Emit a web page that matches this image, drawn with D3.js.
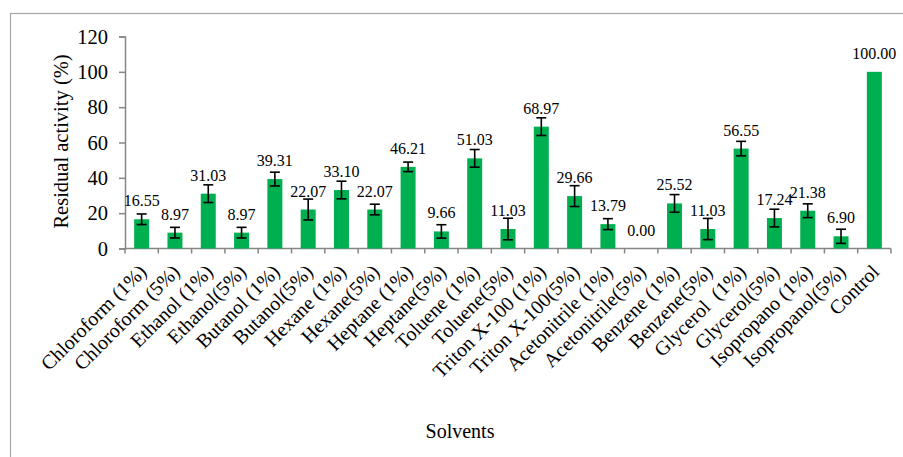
<!DOCTYPE html>
<html>
<head>
<meta charset="utf-8">
<script src="https://cdn.jsdelivr.net/npm/d3@7"></script>
<style>
  html, body { margin: 0; padding: 0; background: #fff; }
  svg { display: block; font-family: "Liberation Serif", "Times New Roman", serif; }
</style>
</head>
<body>
<svg id="chart" width="903" height="457"></svg>
<script>
// Solvent treatments and residual enzyme activity (%)
const categories = [
  "Chloroform (1%)", "Chloroform (5%)", "Ethanol (1%)", "Ethanol(5%)",
  "Butanol (1%)", "Butanol(5%)", "Hexane (1%)", "Hexane(5%)",
  "Heptane (1%)", "Heptane(5%)", "Toluene (1%)", "Toluene(5%)",
  "Triton X-100 (1%)", "Triton X-100(5%)", "Acetonitrile (1%)", "Acetonitrile(5%)",
  "Benzene (1%)", "Benzene(5%)", "Glycerol  (1%)", "Glycerol(5%)",
  "Isopropano (1%)", "Isopropanol(5%)", "Control"
];
const activity = [
  16.55, 8.97, 31.03, 8.97, 39.31, 22.07, 33.10, 22.07, 46.21, 9.66, 51.03, 11.03,
  68.97, 29.66, 13.79, 0.00, 25.52, 11.03, 56.55, 17.24, 21.38, 6.90, 100.00
];
// Standard deviation shown as error bars
const errors = [
  3.0, 3.0, 5.0, 3.0, 3.9, 5.9, 5.0, 3.0, 2.7, 3.8, 5.0, 6.1,
  5.0, 5.9, 3.1, 0, 5.0, 6.0, 4.1, 5.0, 3.9, 4.0, 0
];
const yTicks = [0, 20, 40, 60, 80, 100, 120];

const svg = d3.select("#chart");
const axisColor = "#868686";

// Outer chart frame
svg.append("rect")
  .attr("x", 10.5).attr("y", 13.5)
  .attr("width", 1000).attr("height", 1000)
  .attr("fill", "none").attr("stroke", "#a6a6a6").attr("stroke-width", 1.2);

const x = d3.scaleBand()
  .domain(categories)
  .range([125, 891])
  .paddingInner(0.55)
  .paddingOuter(0.275);

const y = d3.scaleLinear().domain([0, 120]).range([248.5, 36.5]);

// Y axis
const yAxis = svg.append("g")
  .attr("transform", "translate(125,0)")
  .call(d3.axisLeft(y).tickValues(yTicks).tickSize(6).tickPadding(11));
yAxis.select(".domain").attr("stroke", axisColor).attr("stroke-width", 1.5);
yAxis.selectAll(".tick line").attr("stroke", axisColor).attr("stroke-width", 1.5);
yAxis.selectAll(".tick text")
  .attr("fill", "#000")
  .style("font-family", "Liberation Serif, serif")
  .style("font-size", "20.5px")
  .attr("dy", "0.33em");

// X axis with ticks at band boundaries
const step = x.step();
const x0 = x.range()[0];
const boundaries = d3.range(categories.length + 1).map(i => x0 + i * step);
const xg = svg.append("g");
xg.append("line")
  .attr("x1", x0).attr("x2", x.range()[1])
  .attr("y1", y(0)).attr("y2", y(0))
  .attr("stroke", axisColor).attr("stroke-width", 1.5);
xg.selectAll("line.tick")
  .data(boundaries)
  .join("line")
  .attr("class", "tick")
  .attr("x1", d => d).attr("x2", d => d)
  .attr("y1", y(0)).attr("y2", y(0) + 5)
  .attr("stroke", axisColor).attr("stroke-width", 1.5);

// Category labels, rotated
xg.selectAll("text")
  .data(categories)
  .join("text")
  .attr("transform", d => `translate(${x(d) + x.bandwidth() / 2 + 6},273) rotate(-45)`)
  .attr("text-anchor", "end")
  .style("font-size", "20px")
  .attr("fill", "#000")
  .style("white-space", "pre")
  .attr("xml:space", "preserve")
  .text(d => d);

// Bars
svg.append("g").selectAll("rect")
  .data(categories)
  .join("rect")
  .attr("x", d => x(d))
  .attr("width", x.bandwidth())
  .attr("y", (d, i) => y(activity[i]))
  .attr("height", (d, i) => y(0) - y(activity[i]))
  .attr("fill", "#00b050");

// Error bars
const eb = svg.append("g").attr("stroke", "#000").attr("stroke-width", 1.6);
categories.forEach((c, i) => {
  if (!errors[i]) return;
  const cx = x(c) + x.bandwidth() / 2;
  const top = y(activity[i] + errors[i]);
  const bot = y(activity[i] - errors[i]);
  eb.append("line").attr("x1", cx).attr("x2", cx).attr("y1", top).attr("y2", bot);
  eb.append("line").attr("x1", cx - 5).attr("x2", cx + 5).attr("y1", top).attr("y2", top);
  eb.append("line").attr("x1", cx - 5).attr("x2", cx + 5).attr("y1", bot).attr("y2", bot);
});

// Value labels
svg.append("g").selectAll("text")
  .data(categories)
  .join("text")
  .attr("x", d => x(d) + x.bandwidth() / 2)
  .attr("y", (d, i) => y(activity[i]) - 13)
  .attr("text-anchor", "middle")
  .style("font-size", "16px")
  .attr("fill", "#000")
  .text((d, i) => activity[i].toFixed(2));

// Axis titles
svg.append("text")
  .attr("transform", "translate(68,141.5) rotate(-90)")
  .attr("text-anchor", "middle")
  .style("font-size", "20.5px")
  .attr("fill", "#000")
  .text("Residual activity (%)");

svg.append("text")
  .attr("x", 460).attr("y", 438)
  .attr("text-anchor", "middle")
  .style("font-size", "20px")
  .attr("fill", "#000")
  .text("Solvents");
</script>
</body>
</html>
